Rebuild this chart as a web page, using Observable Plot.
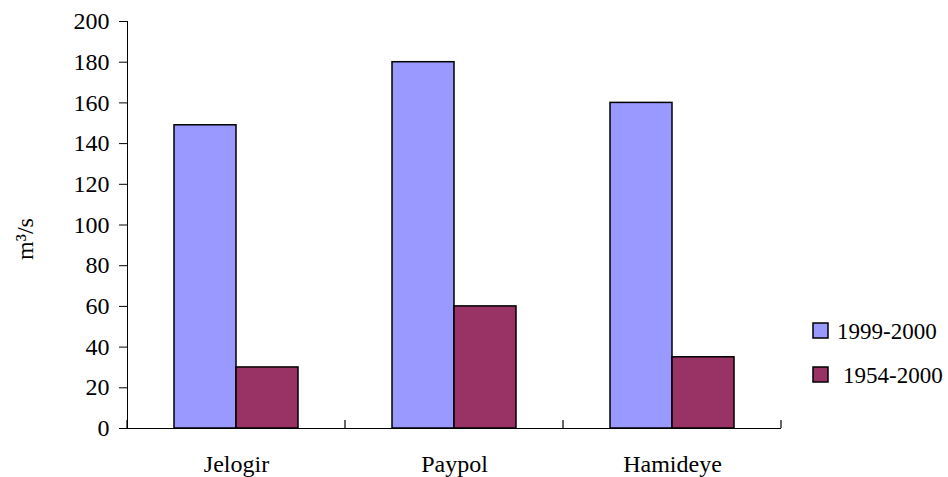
<!DOCTYPE html>
<html><head><meta charset="utf-8">
<script src="https://cdn.jsdelivr.net/npm/d3@7"></script>
<script src="https://cdn.jsdelivr.net/npm/@observablehq/plot@0.6"></script>
<style>body{margin:0;background:#fff}</style>
</head><body><div id="chart"></div>
<script>
const categories = ["Jelogir", "Paypol", "Hamideye"];
const series = ["1999-2000", "1954-2000"];
const values1999 = [149, 180, 160];
const values1954 = [30, 60, 35];
const colors = ["#9999ff", "#993366"];
const yLabel = "m³/s";

const data = categories.flatMap((c, i) => [
  {category: c, series: series[0], value: values1999[i]},
  {category: c, series: series[1], value: values1954[i]}
]);

const font = "'Liberation Serif', 'Times New Roman', serif";

const plot = Plot.plot({
  width: 948, height: 477,
  marginTop: 21, marginBottom: 49, marginLeft: 127, marginRight: 167,
  style: {fontFamily: font, fontSize: "24px", color: "#000", background: "#fff", overflow: "visible"},
  fx: {domain: categories, padding: 0, label: null, tickSize: 0, tickPadding: 26},
  x: {domain: series, axis: null, paddingInner: 0, paddingOuter: 0.758},
  y: {domain: [0, 200], ticks: 10, tickSize: 8, tickPadding: 10, label: null, line: true},
  color: {domain: series, range: colors},
  marks: [
    Plot.barY(data, {fx: "category", x: "series", y: "value", fill: "series", stroke: "#000", strokeWidth: 1.5}),
    Plot.ruleY([0], {stroke: "#000", strokeWidth: 1.2})
  ]
});

const svg = d3.select(plot);
const fx = plot.scale("fx");
const y = plot.scale("y");
const y0 = y.apply(0);
const bounds = categories.map(c => fx.apply(c));
bounds.push(fx.apply(categories[categories.length - 1]) + fx.bandwidth);
svg.append("g").attr("stroke", "#000").attr("stroke-width", 1.2)
  .selectAll("line").data(bounds).join("line")
  .attr("x1", d => d).attr("x2", d => d)
  .attr("y1", y0).attr("y2", y0 - 8);

// y-axis title
svg.append("text")
  .attr("transform", `translate(33,239) rotate(-90)`)
  .attr("text-anchor", "middle").attr("font-family", font).attr("font-size", 24).attr("fill", "#000")
  .text(yLabel);

const legend = svg.append("g").attr("font-family", font).attr("font-size", 23).attr("text-anchor", "start");
const items = legend.selectAll("g").data(series).join("g")
  .attr("transform", (d, i) => `translate(813,${323 + i * 44})`);
items.append("rect").attr("width", 15).attr("height", 15)
  .attr("fill", (d, i) => colors[i]).attr("stroke", "#000").attr("stroke-width", 1.5);
items.append("text").attr("x", (d, i) => i === 0 ? 24 : 30).attr("y", 8).attr("dy", "0.35em")
  .attr("fill", "#000").text(d => d);

document.getElementById("chart").appendChild(plot);
</script>
</body></html>
